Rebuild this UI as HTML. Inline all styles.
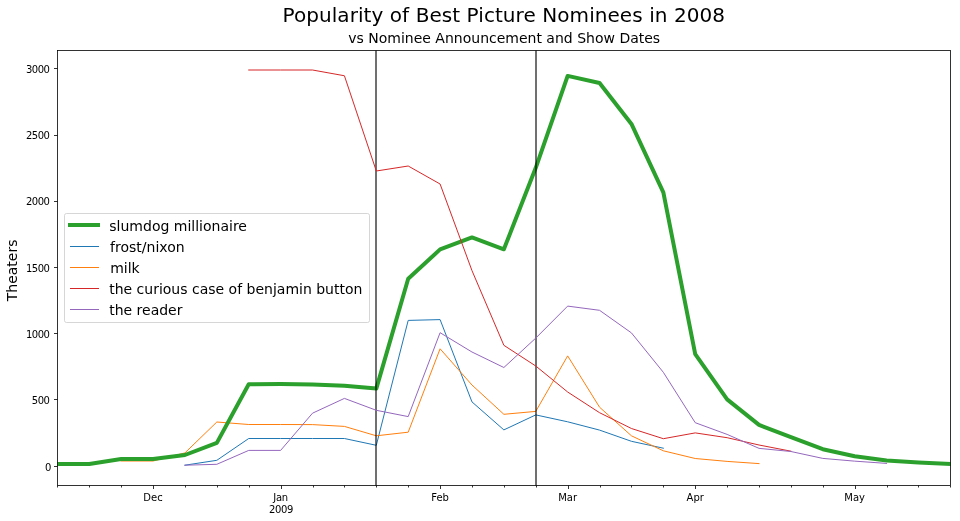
<!DOCTYPE html>
<html><head><meta charset="utf-8"><title>Popularity of Best Picture Nominees in 2008</title>
<style>
html,body{margin:0;padding:0;background:#fff;}
body{width:960px;height:521px;overflow:hidden;}
svg{display:block;will-change:transform;font-family:"DejaVu Sans","Liberation Sans",sans-serif;fill:#000;}
</style></head><body>
<svg width="960" height="521" viewBox="0 0 960 521">
<rect x="0" y="0" width="960" height="521" fill="#fff"/>
<text x="503.8" y="22.3" text-anchor="middle" font-size="20px" letter-spacing="0.065">Popularity of Best Picture Nominees in 2008</text>
<text x="504.2" y="42.8" text-anchor="middle" font-size="14px">vs Nominee Announcement and Show Dates</text>
<text transform="translate(16.9,270.4) rotate(-90)" text-anchor="middle" font-size="14px">Theaters</text>
<defs><clipPath id="ax"><rect x="57.5" y="50.5" width="893.0" height="435.0"/></clipPath></defs>
<g clip-path="url(#ax)" fill="none" stroke-linejoin="round" stroke-linecap="square">
<polyline points="184.94,465.20 216.84,460.30 248.73,438.50 280.62,438.50 312.51,438.50 344.41,438.50 376.30,445.30 408.19,320.40 440.09,319.60 471.98,401.90 503.87,429.90 535.76,414.90 567.66,421.80 599.55,430.10 631.44,441.30 663.34,448.20" stroke="#1f77b4" stroke-width="1"/>
<polyline points="121.16,461.00 153.05,461.00 184.94,452.90 216.84,422.00 248.73,424.50 280.62,424.50 312.51,424.60 344.41,426.40 376.30,435.80 408.19,432.20 440.09,348.80 471.98,385.00 503.87,414.30 535.76,411.40 567.66,355.90 599.55,407.20 631.44,435.80 663.34,450.80 695.23,458.50 727.12,461.40 759.02,463.60" stroke="#ff7f0e" stroke-width="1"/>
<polyline points="57.37,464.00 89.26,464.00 121.16,459.06 153.05,459.06 184.94,455.00 216.84,442.90 248.73,384.20 280.62,384.00 312.51,384.45 344.41,385.80 376.30,388.60 408.19,278.80 440.09,249.40 471.98,237.45 503.87,249.30 535.76,167.80 567.66,75.90 599.55,83.00 631.44,123.90 663.34,192.40 695.23,354.10 727.12,399.40 759.02,424.90 790.91,437.10 822.80,449.20 854.70,456.30 886.59,460.55 918.48,462.50 950.37,464.05" stroke="#2ca02c" stroke-width="4"/>
</g>
<line x1="376.0" y1="50.5" x2="376.0" y2="485.5" stroke="#000" stroke-opacity="0.56" stroke-width="2"/>
<line x1="536.0" y1="50.5" x2="536.0" y2="485.5" stroke="#000" stroke-opacity="0.56" stroke-width="2"/>
<g clip-path="url(#ax)" fill="none" stroke-linejoin="round" stroke-linecap="square">
<polyline points="248.73,70.00 280.62,70.00 312.51,70.00 344.41,75.75 376.30,171.00 408.19,166.00 440.09,184.00 471.98,270.60 503.87,345.30 535.76,366.00 567.66,392.00 599.55,412.70 631.44,428.50 663.34,438.70 695.23,432.90 727.12,437.70 759.02,445.00 790.91,451.20" stroke="#d62728" stroke-width="1"/>
<polyline points="184.94,465.20 216.84,464.30 248.73,450.40 280.62,450.40 312.51,413.20 344.41,398.40 376.30,410.30 408.19,416.60 440.09,332.70 471.98,352.00 503.87,367.50 535.76,338.10 567.66,306.10 599.55,310.30 631.44,332.90 663.34,372.30 695.23,422.70 727.12,434.40 759.02,448.35 790.91,451.50 822.80,458.40 854.70,461.15 886.59,463.40" stroke="#9467bd" stroke-width="1"/>
</g>
<rect x="57.5" y="50.5" width="893.0" height="435.0" fill="none" stroke="#000" stroke-width="0.8"/>
<text x="51.45" y="470.53" text-anchor="end" font-size="10px">0</text>
<text x="49.40" y="404.21" text-anchor="end" font-size="10px" letter-spacing="-0.5">500</text>
<text x="49.40" y="337.89" text-anchor="end" font-size="10px" letter-spacing="-0.5">1000</text>
<text x="49.40" y="271.56" text-anchor="end" font-size="10px" letter-spacing="-0.5">1500</text>
<text x="49.40" y="205.24" text-anchor="end" font-size="10px" letter-spacing="-0.5">2000</text>
<text x="49.40" y="138.92" text-anchor="end" font-size="10px" letter-spacing="-0.5">2500</text>
<text x="49.40" y="72.60" text-anchor="end" font-size="10px" letter-spacing="-0.5">3000</text>
<text x="153.05" y="500.8" text-anchor="middle" font-size="10px">Dec</text>
<text x="280.62" y="500.8" text-anchor="middle" font-size="10px" letter-spacing="-0.3">Jan</text>
<text x="440.09" y="500.8" text-anchor="middle" font-size="10px">Feb</text>
<text x="567.66" y="500.8" text-anchor="middle" font-size="10px">Mar</text>
<text x="695.23" y="500.8" text-anchor="middle" font-size="10px">Apr</text>
<text x="854.70" y="500.8" text-anchor="middle" font-size="10px">May</text>
<text x="280.97" y="512.6" text-anchor="middle" font-size="10px" letter-spacing="-0.35">2009</text>
<path d="M54.0,466.5H57.5 M54.0,399.5H57.5 M54.0,333.5H57.5 M54.0,267.5H57.5 M54.0,201.5H57.5 M54.0,135.5H57.5 M54.0,68.5H57.5 M57.50,485.5V487.5 M89.50,485.5V487.5 M121.50,485.5V487.5 M153.50,485.5V489.0 M185.50,485.5V487.5 M217.50,485.5V487.5 M249.50,485.5V487.5 M281.50,485.5V489.0 M313.50,485.5V487.5 M344.50,485.5V487.5 M376.50,485.5V487.5 M408.50,485.5V487.5 M440.50,485.5V489.0 M472.50,485.5V487.5 M504.50,485.5V487.5 M536.50,485.5V487.5 M568.50,485.5V489.0 M600.50,485.5V487.5 M631.50,485.5V487.5 M663.50,485.5V487.5 M695.50,485.5V489.0 M727.50,485.5V487.5 M759.50,485.5V487.5 M791.50,485.5V487.5 M823.50,485.5V487.5 M855.50,485.5V489.0 M887.50,485.5V487.5 M918.50,485.5V487.5 M950.50,485.5V487.5" stroke="#000" stroke-width="0.8" fill="none"/>
<rect x="64.5" y="213.5" width="305" height="109" rx="2" fill="#fff" fill-opacity="0.8" stroke="#ccc" stroke-opacity="0.8" stroke-width="1"/>
<line x1="70" y1="225.00" x2="98" y2="225.00" stroke="#2ca02c" stroke-width="4" stroke-linecap="square"/>
<text x="109.30" y="230.55" font-size="14px">slumdog millionaire</text>
<line x1="70.5" y1="246.50" x2="98.5" y2="246.50" stroke="#1f77b4" stroke-width="1" stroke-linecap="square"/>
<text x="110.10" y="251.55" font-size="14px">frost/nixon</text>
<line x1="70.5" y1="267.50" x2="98.5" y2="267.50" stroke="#ff7f0e" stroke-width="1" stroke-linecap="square"/>
<text x="110.20" y="272.55" font-size="14px">milk</text>
<line x1="70.5" y1="288.50" x2="98.5" y2="288.50" stroke="#d62728" stroke-width="1" stroke-linecap="square"/>
<text x="109.15" y="293.55" font-size="14px">the curious case of benjamin button</text>
<line x1="70.5" y1="309.50" x2="98.5" y2="309.50" stroke="#9467bd" stroke-width="1" stroke-linecap="square"/>
<text x="109.15" y="314.55" font-size="14px">the reader</text>
</svg>
</body></html>
